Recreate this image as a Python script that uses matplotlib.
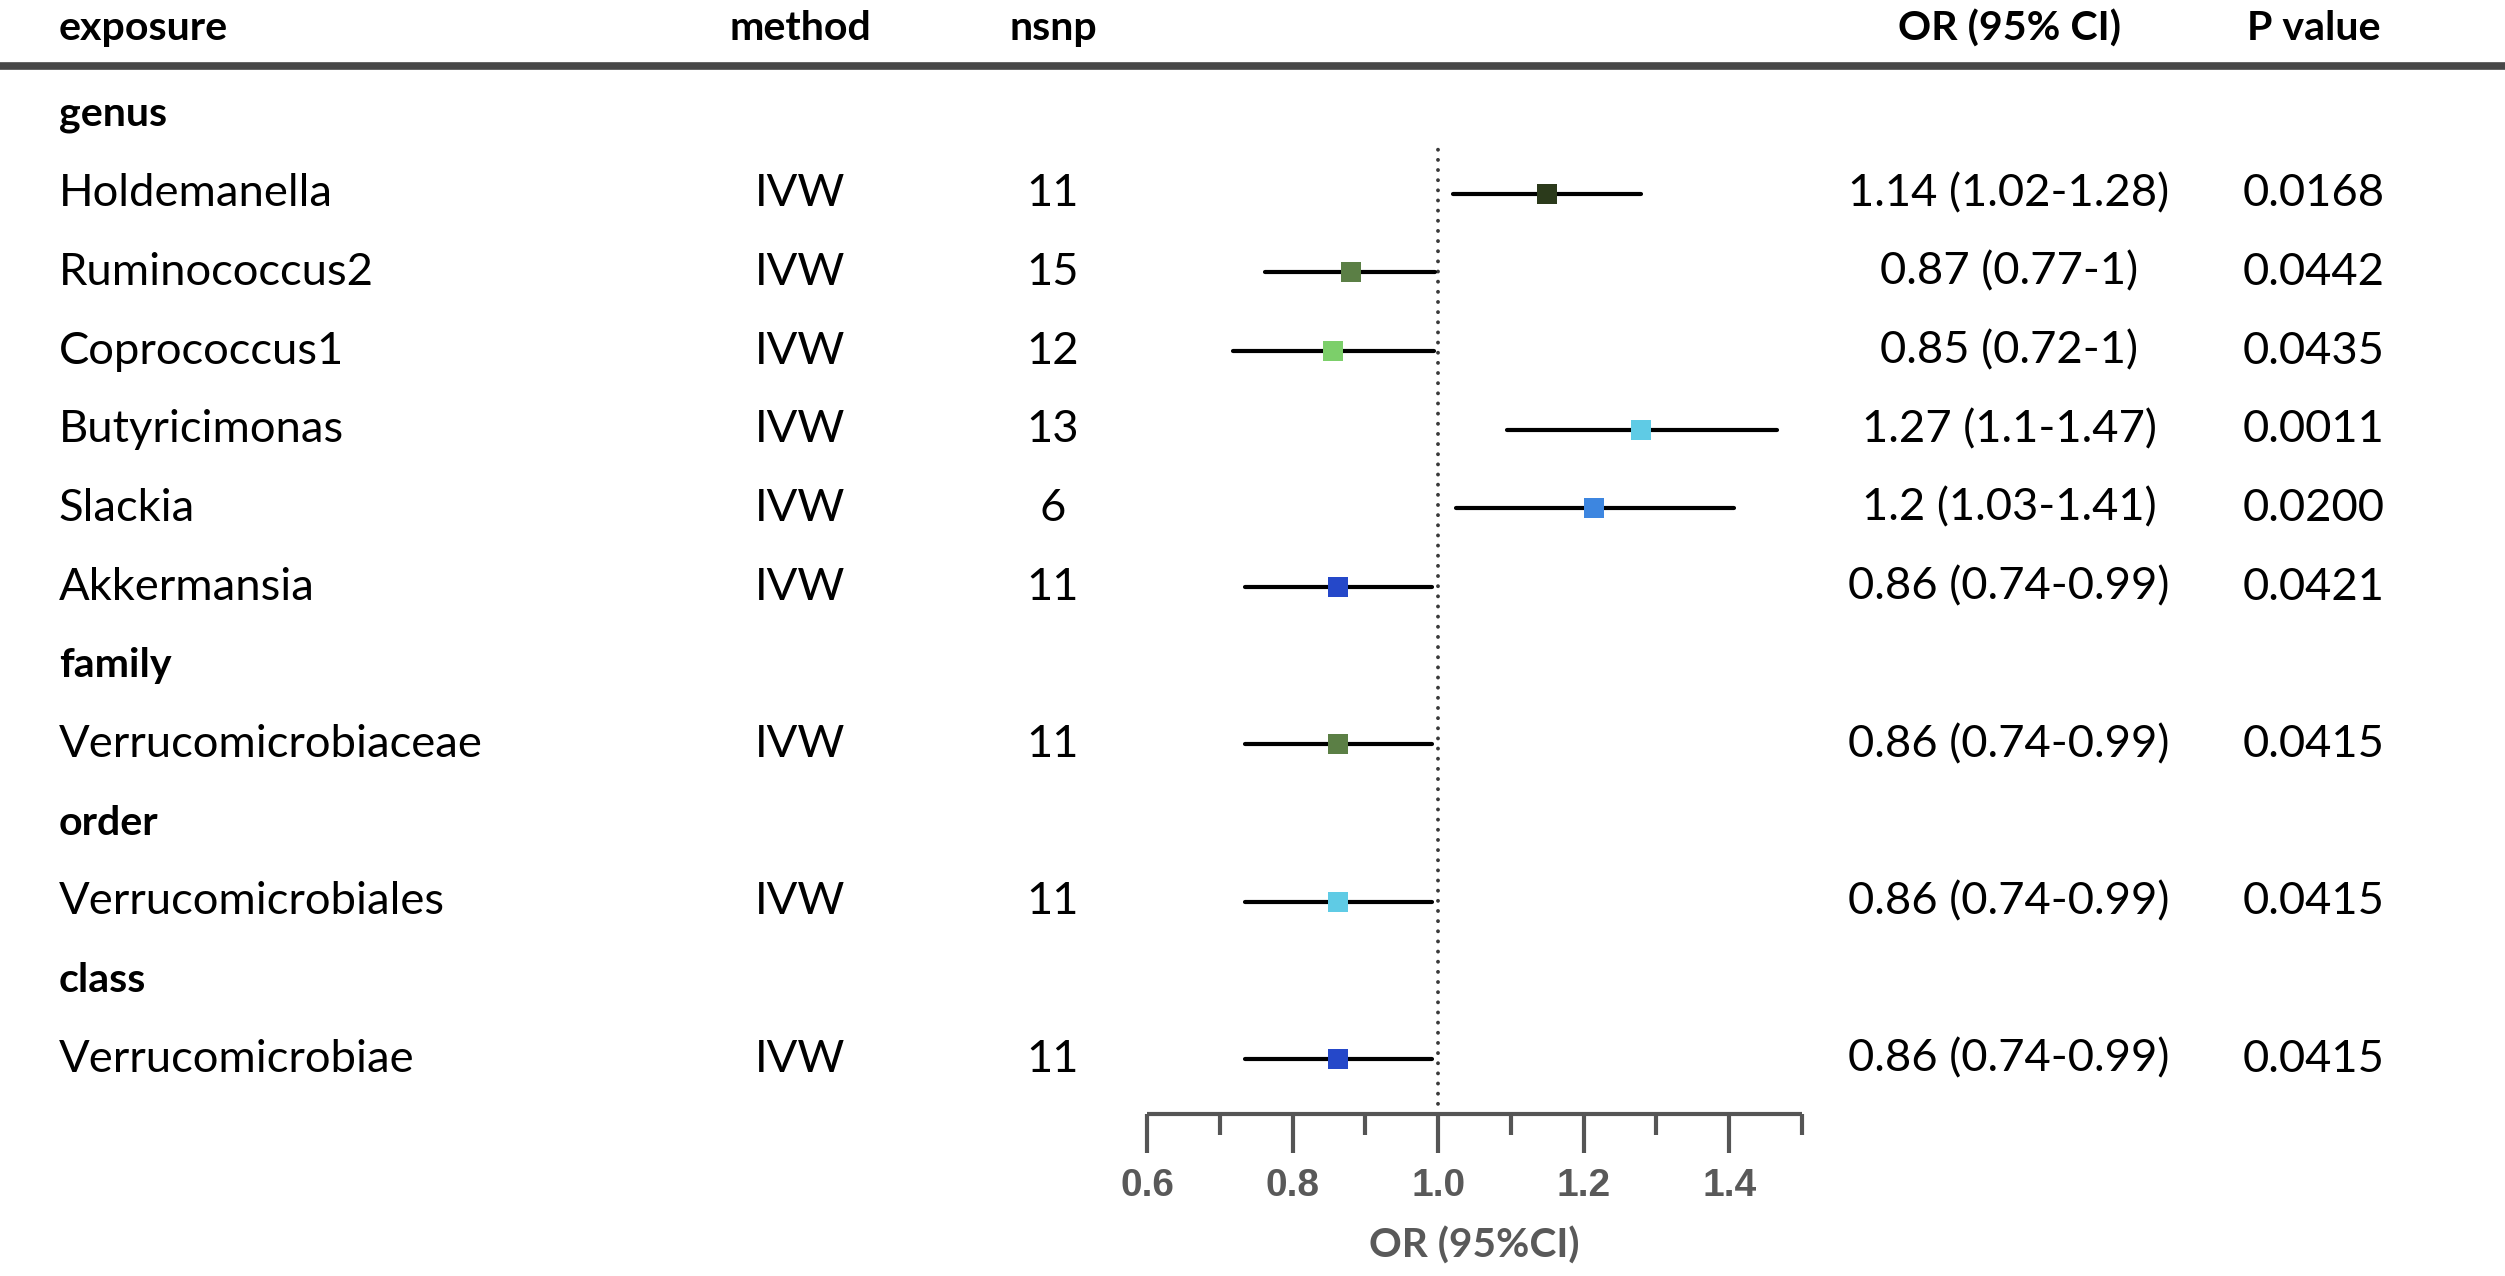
import matplotlib
matplotlib.use("Agg")
import matplotlib.pyplot as plt
from matplotlib import transforms
from matplotlib.lines import Line2D

# table rows, top to bottom (None = group header row)
groups = ["genus", None, None, None, None, None, None,
          "family", None, "order", None, "class", None]
exposure = ["Holdemanella", "Ruminococcus2", "Coprococcus1", "Butyricimonas",
            "Slackia", "Akkermansia", "Verrucomicrobiaceae",
            "Verrucomicrobiales", "Verrucomicrobiae"]
method = ["IVW"] * 9
nsnp = [11, 15, 12, 13, 6, 11, 11, 11, 11]
or_text = ["1.14 (1.02-1.28)", "0.87 (0.77-1)", "0.85 (0.72-1)",
           "1.27 (1.1-1.47)", "1.2 (1.03-1.41)", "0.86 (0.74-0.99)",
           "0.86 (0.74-0.99)", "0.86 (0.74-0.99)", "0.86 (0.74-0.99)"]
p_text = ["0.0168", "0.0442", "0.0435", "0.0011", "0.0200", "0.0421",
          "0.0415", "0.0415", "0.0415"]
# values as drawn
or_val = [1.15, 0.88, 0.856, 1.279, 1.214, 0.863, 0.863, 0.863, 0.863]
ci_low = [1.021, 0.762, 0.718, 1.095, 1.024, 0.734, 0.734, 0.734, 0.734]
ci_high = [1.279, 0.996, 0.994, 1.465, 1.406, 0.992, 0.992, 0.992, 0.992]
colors = ["#2b3a1b", "#5b7f45", "#7ccf6a", "#5fcbe5", "#3d86e0", "#2548c9",
          "#5b7f45", "#5fcbe5", "#2548c9"]
xticks_major = [0.6, 0.8, 1.0, 1.2, 1.4]
xticks_minor = [0.7, 0.9, 1.1, 1.3, 1.5]

W, H = 2505, 1276
fig = plt.figure(figsize=(W / 100, H / 100), dpi=100)
renderer = fig.canvas.get_renderer()

# forest axes: x 0.6..1.5 -> px 1147..1802, rows 115 + 78.67*r
x0, x1 = 1147, 1802
top_px, bot_px = 145, 1114
row0, drow = 115, 78.67
ax = fig.add_axes([x0 / W, 1 - bot_px / H, (x1 - x0) / W, (bot_px - top_px) / H])
ax.set_xlim(0.6, 1.5)
ax.set_ylim((bot_px - row0) / drow, (top_px - row0) / drow)

for s in ["top", "left", "right"]:
    ax.spines[s].set_visible(False)
ax.spines["bottom"].set_color("#555555")
ax.spines["bottom"].set_linewidth(3.0)
ax.spines["bottom"].set_capstyle("butt")
ax.set_yticks([])
ax.set_xticks(xticks_major)
ax.set_xticks(xticks_minor, minor=True)
ax.tick_params(axis="x", which="major", length=28, width=3.0, color="#555555",
               pad=11)
ax.tick_params(axis="x", which="minor", length=15, width=3.0, color="#555555")
ax.set_xticklabels([f"{t:.1f}" for t in xticks_major],
                   fontfamily="Liberation Sans", fontweight="bold",
                   fontsize=28, color="#595959")
ax.axvline(1.0, color="#3a3a3a", lw=2.8, linestyle=(0, (0.01, 2.6)),
           dash_capstyle="round")


def fit_size(text, width_px, **kw):
    t = fig.text(0, 0, text, fontsize=10, **kw)
    w = t.get_window_extent(renderer).width
    t.remove()
    return 10 * width_px / w


body = fit_size("Verrucomicrobiaceae", 425, family="Lato")
head = fit_size("exposure", 170, family="Lato", fontweight="bold")

ax.set_xlabel("OR (95%CI)", family="Lato", fontweight="bold", color="#595959",
              fontsize=fit_size("OR (95%CI)", 210, family="Lato", fontweight="bold"),
              labelpad=16)

trans = transforms.blended_transform_factory(fig.transFigure, ax.transData)
col_exp, col_met, col_nsnp, col_or, col_p = 59 / W, 800 / W, 1053 / W, 2009 / W, 2314 / W

# header
hy = (29 - row0) / drow
for lab, xx, ha in [("exposure", col_exp, "left"), ("method", col_met, "center"),
                    ("nsnp", col_nsnp, "center"), ("OR (95% CI)", col_or, "center"),
                    ("P value", col_p, "center")]:
    ax.text(xx, hy, lab, transform=trans, ha=ha, va="center", family="Lato",
            fontweight="bold", fontsize=head, color="black")
fig.add_artist(Line2D([0, 1], [1 - 66 / H, 1 - 66 / H], transform=fig.transFigure,
                      color="#474747", lw=5.5))

k = 0
for r, g in enumerate(groups):
    if g is not None:
        ax.text(col_exp, r, g, transform=trans, ha="left", va="center",
                family="Lato", fontweight="bold", fontsize=head)
        continue
    ax.text(col_exp, r, exposure[k], transform=trans, ha="left", va="center",
            family="Lato", fontsize=body)
    ax.text(col_met, r, method[k], transform=trans, ha="center", va="center",
            family="Lato", fontsize=body)
    ax.text(col_nsnp, r, str(nsnp[k]), transform=trans, ha="center", va="center",
            family="Lato", fontsize=body)
    ax.text(col_or, r, or_text[k], transform=trans, ha="center", va="center",
            family="Lato", fontsize=body)
    ax.text(col_p, r, p_text[k], transform=trans, ha="center", va="center",
            family="Lato", fontsize=body)
    ax.plot([ci_low[k], ci_high[k]], [r, r], color="black", lw=3.0,
            solid_capstyle="round", zorder=3)
    ax.plot(or_val[k], r, marker="s", markersize=15, color=colors[k],
            markeredgewidth=0, zorder=4)
    k += 1

fig.savefig("out.png", dpi=100)
